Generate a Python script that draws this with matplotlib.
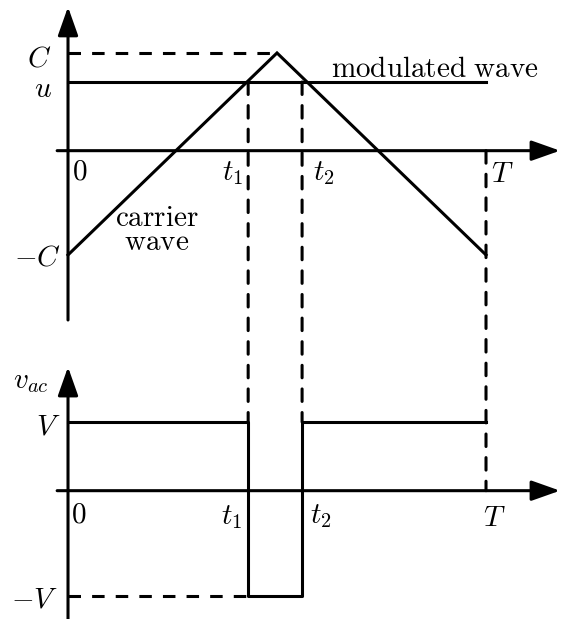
import matplotlib
matplotlib.use("Agg")
import matplotlib.pyplot as plt
from matplotlib.patches import ConnectionPatch

plt.rcParams['mathtext.fontset'] = 'cm'
plt.rcParams['lines.scale_dashes'] = False

# switching period and instants
T = 1.0
t_peak = 0.5
t1 = 0.431
t2 = 0.560

# carrier (triangle) and modulating level
carrier_t = [0.0, t_peak, T]
carrier_v = [-1.067, 1.0, -1.067]
C = 1.0
C_low = -1.067
u = 0.703

# output voltage levels
V = 1.0
V_low = -1.533
vac_t = [0.0, t1, t1, t2, t2, T]
vac_v = [V, V, V_low, V_low, V, V]

LW = 2.2
DASH = (0, (9, 8))
FS = 21

fig = plt.figure(figsize=(5.62, 6.19), dpi=100)
ax_top = fig.add_axes([0, 0, 1, 1])
ax_bot = fig.add_axes([0, 0, 1, 1])
for ax in (ax_top, ax_bot):
    ax.set_xlim(-0.1627, 1.1818)
    ax.axis('off')
    ax.patch.set_visible(False)
ax_top.set_ylim(-4.793, 1.542)
ax_bot.set_ylim(-1.868, 7.143)


def axis_arrow(ax, start, tip):
    ax.annotate('', xy=tip, xytext=start,
                arrowprops=dict(arrowstyle='-|>,head_length=1.75,head_width=0.62',
                                mutation_scale=10, lw=LW, color='black',
                                shrinkA=0, shrinkB=0))


def label(ax, s, xy, off):
    ax.annotate(s, xy=xy, xytext=off, textcoords='offset pixels',
                ha='center', va='center', fontsize=FS)


# top panel: carrier vs modulated wave
axis_arrow(ax_top, (0, -1.733), (0, 1.471))
axis_arrow(ax_top, (-0.026, 0), (1.177, 0))
ax_top.plot(carrier_t, carrier_v, color='black', lw=LW, solid_joinstyle='miter')
ax_top.plot([0, T], [u, u], color='black', lw=LW)
ax_top.plot([0, t_peak], [C, C], color='black', lw=LW, ls=DASH)

label(ax_top, r'$C$', (0, C), (-29, -6))
label(ax_top, r'$u$', (0, u), (-25, -7))
label(ax_top, r'$-C$', (0, C_low), (-31, -3))
label(ax_top, r'$0$', (0, 0), (11.5, -21))
label(ax_top, r'$t_1$', (t1, 0), (-15.5, -22))
label(ax_top, r'$t_2$', (t2, 0), (22, -22))
label(ax_top, r'$T$', (T, 0), (16, -23))
label(ax_top, r'$\mathrm{modulated\ wave}$', (T, u), (-51, 13))
ax_top.annotate(r'$\mathrm{carrier}$' + '\n' + r'$\mathrm{wave}$', xy=(0, C_low),
                xytext=(89, 25), textcoords='offset pixels', ha='center',
                va='center', fontsize=FS, linespacing=0.8)

# bottom panel: output voltage
axis_arrow(ax_bot, (0, -1.868), (0, 1.80))
axis_arrow(ax_bot, (-0.026, 0), (1.177, 0))
ax_bot.plot(vac_t, vac_v, color='black', lw=LW)
ax_bot.plot([0, t1], [V_low, V_low], color='black', lw=LW, ls=DASH)

label(ax_bot, r'$v_{ac}$', (0, 1.80), (-37, -14))
label(ax_bot, r'$V$', (0, V), (-20, -5))
label(ax_bot, r'$-V$', (0, V_low), (-33, -4))
label(ax_bot, r'$0$', (0, 0), (11, -24))
label(ax_bot, r'$t_1$', (t1, 0), (-17, -26))
label(ax_bot, r'$t_2$', (t2, 0), (19, -25))
label(ax_bot, r'$T$', (T, 0), (8.5, -27))

# dashed projections from the top panel down to the bottom one
for x, y_from, y_to in [(t1, u, V), (t2, u, V), (T, 0, 0)]:
    cp = ConnectionPatch(xyA=(x, y_from), coordsA=ax_top.transData,
                         xyB=(x, y_to), coordsB=ax_bot.transData,
                         lw=LW, ls=DASH, color='black')
    fig.add_artist(cp)

fig.savefig('out.png', dpi=100)
